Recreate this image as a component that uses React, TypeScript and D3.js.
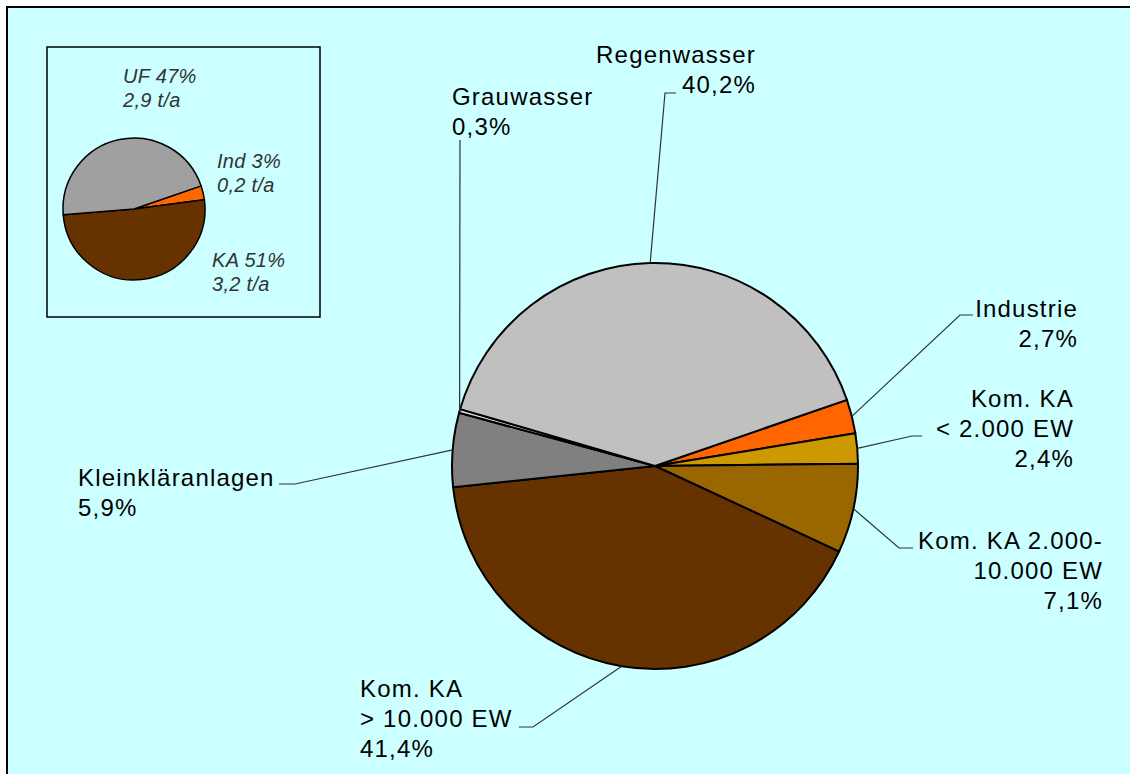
import { useEffect, useRef } from "react";
import * as d3 from "d3";

// main pie: share of load per source (%)
const categories = [
  "Industrie",
  "Kom. KA < 2.000 EW",
  "Kom. KA 2.000-10.000 EW",
  "Kom. KA > 10.000 EW",
  "Kleinkläranlagen",
  "Grauwasser",
  "Regenwasser",
];
const shares = [2.7, 2.4, 7.1, 41.4, 5.9, 0.3, 40.2];
const labelLines = [
  ["Industrie", "2,7%"],
  ["Kom. KA", "< 2.000 EW", "2,4%"],
  ["Kom. KA 2.000-", "10.000 EW", "7,1%"],
  ["Kom. KA", "> 10.000 EW", "41,4%"],
  ["Kleinkläranlagen", "5,9%"],
  ["Grauwasser", "0,3%"],
  ["Regenwasser", "40,2%"],
];
const colors = ["#FF6600", "#CC9900", "#996600", "#663300", "#808080", "#DDDDDD", "#C0C0C0"];

// inset pie: totals in t/a
const insetCategories = ["Ind", "KA", "UF"];
const insetLoads = [0.2, 3.2, 2.9];
const insetLabels = [
  ["Ind 3%", "0,2 t/a"],
  ["KA 51%", "3,2 t/a"],
  ["UF 47%", "2,9 t/a"],
];
const insetColors = ["#FF6600", "#663300", "#A0A0A0"];

// label layout: text anchor position + leader elbow points
const labelLayout = [
  { x: 1078, y: 317, anchor: "end", elbow: [[960, 315], [973, 315]] },
  { x: 1074, y: 407, anchor: "end", elbow: [[912, 436], [922, 436]] },
  { x: 1103, y: 549, anchor: "end", elbow: [[899, 548], [913, 548]] },
  { x: 360, y: 697, anchor: "start", elbow: [[533, 727], [519, 727]] },
  { x: 78, y: 486, anchor: "start", elbow: [[295, 484], [279, 484]] },
  { x: 452, y: 105, anchor: "start", elbow: [[460, 140]] },
  { x: 756, y: 63, anchor: "end", elbow: [[665, 93], [676, 93]] },
];
const insetLayout = [
  { x: 217, y: 168 },
  { x: 212, y: 267 },
  { x: 123, y: 83 },
];

const FONT = "'Liberation Sans', Arial, sans-serif";

export default function App() {
  const svgRef = useRef<SVGSVGElement>(null);

  useEffect(() => {
    if (!svgRef.current) return;
    const svg = d3.select(svgRef.current);
    svg.selectAll("*").remove();

    const width = 1130;
    const height = 774;
    svg.attr("width", width).attr("height", height);

    // outer chart frame
    svg
      .append("rect")
      .attr("x", 7)
      .attr("y", 7)
      .attr("width", 1140)
      .attr("height", 800)
      .attr("fill", "#CCFFFF")
      .attr("stroke", "#000")
      .attr("stroke-width", 2);

    // ---- main pie ----
    const cx = 655;
    const cy = 466;
    const r = 203;
    const start = (71 * Math.PI) / 180;

    const pie = d3
      .pie<number>()
      .sort(null)
      .value((d) => d)
      .startAngle(start)
      .endAngle(start + 2 * Math.PI);
    const arcs = pie(shares);
    const arc = d3.arc<d3.PieArcDatum<number>>().innerRadius(0).outerRadius(r);

    const g = svg.append("g").attr("transform", `translate(${cx},${cy})`);
    g.selectAll("path")
      .data(arcs)
      .enter()
      .append("path")
      .attr("d", arc)
      .attr("fill", (_, i) => colors[i])
      .attr("stroke", "#000")
      .attr("stroke-width", 2)
      .attr("stroke-linejoin", "round");

    // leader lines
    arcs.forEach((a, i) => {
      const mid = (a.startAngle + a.endAngle) / 2;
      const px = cx + r * Math.sin(mid);
      const py = cy - r * Math.cos(mid);
      const pts: [number, number][] = [[px, py], ...(labelLayout[i].elbow as [number, number][])];
      svg
        .append("path")
        .attr("d", d3.line()(pts))
        .attr("fill", "none")
        .attr("stroke", "#333")
        .attr("stroke-width", 1.2);
    });

    // labels
    labelLines.forEach((lines, i) => {
      const lay = labelLayout[i];
      const t = svg
        .append("text")
        .attr("text-anchor", lay.anchor)
        .attr("font-family", FONT)
        .attr("font-size", 24)
        .attr("letter-spacing", 1.2)
        .attr("fill", "#000")
        .attr("aria-label", categories[i]);
      lines.forEach((line, j) => {
        t.append("tspan")
          .attr("x", lay.x)
          .attr("y", lay.y + j * 30)
          .text(line);
      });
    });

    // ---- inset ----
    svg
      .append("rect")
      .attr("x", 47)
      .attr("y", 47)
      .attr("width", 273)
      .attr("height", 270)
      .attr("fill", "#CCFFFF")
      .attr("stroke", "#000")
      .attr("stroke-width", 1.5);

    const icx = 134;
    const icy = 209;
    const ir = 71;
    const istart = (71 * Math.PI) / 180;
    const ipie = d3
      .pie<number>()
      .sort(null)
      .value((d) => d)
      .startAngle(istart)
      .endAngle(istart + 2 * Math.PI);
    const iarc = d3.arc<d3.PieArcDatum<number>>().innerRadius(0).outerRadius(ir);

    const ig = svg.append("g").attr("transform", `translate(${icx},${icy})`);
    ig.selectAll("path")
      .data(ipie(insetLoads))
      .enter()
      .append("path")
      .attr("d", iarc)
      .attr("fill", (_, i) => insetColors[i])
      .attr("stroke", "#000")
      .attr("stroke-width", 1.5)
      .attr("stroke-linejoin", "round");

    insetLabels.forEach((lines, i) => {
      const lay = insetLayout[i];
      const t = svg
        .append("text")
        .attr("font-family", FONT)
        .attr("font-size", 20)
        .attr("font-style", "italic")
        .attr("letter-spacing", 0.3)
        .attr("fill", "#333")
        .attr("aria-label", insetCategories[i]);
      lines.forEach((line, j) => {
        t.append("tspan")
          .attr("x", lay.x)
          .attr("y", lay.y + j * 23.5)
          .text(line);
      });
    });
  }, []);

  return (
    <svg
      ref={svgRef}
      style={{ position: "absolute", left: 0, top: 0, display: "block", background: "#fff" }}
    ></svg>
  );
}
